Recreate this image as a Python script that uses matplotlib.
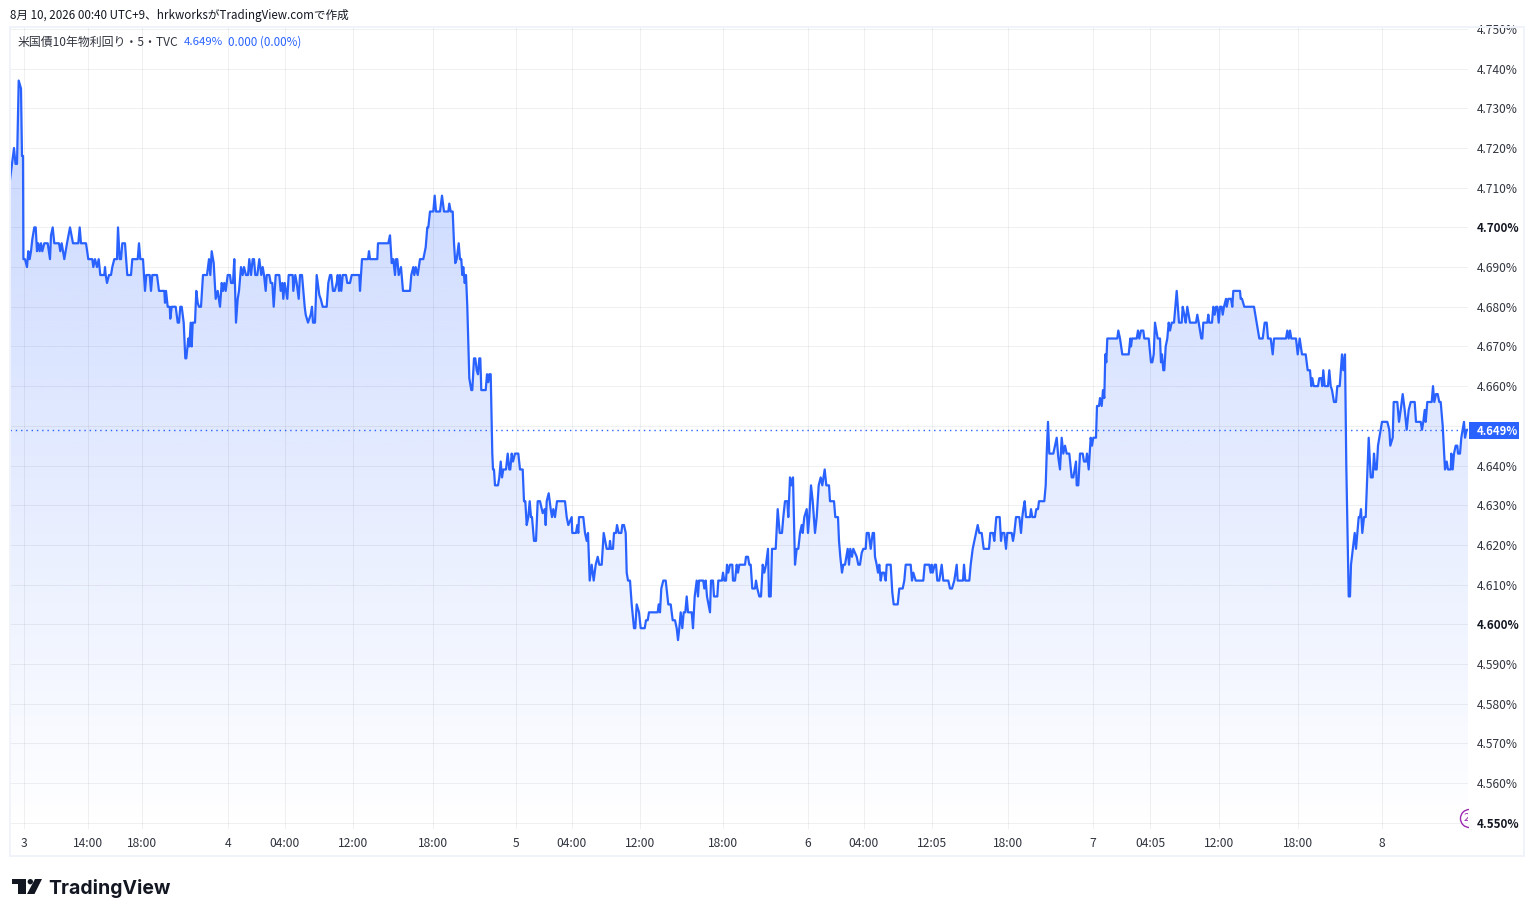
import numpy as np
import matplotlib
matplotlib.use('Agg')
import matplotlib.pyplot as plt
from matplotlib.patches import Rectangle, Polygon, Ellipse
from matplotlib.transforms import Bbox

plt.rcParams['font.family'] = ['Noto Sans CJK JP', 'DejaVu Sans']

W, H = 1534, 917

# (position on the time axis, yield in 1/1000 of a percent above 4%)
aug3_a = [(0,712),(2,716),(4,720),(5.5,716),(7,716),(8.7,737),(11,735),(12,718),(13,718),(13.4,692),
    (15,692),(17,690),(18.3,694),(19.7,692),(21,694),(22.3,697),(24.3,700),(25.7,700),(27,694),(28.3,696),
    (29.7,694),(31,696),(32.3,694),(34.3,696),(37.7,696),(40,692),(41,698),(42.7,700),(44.3,696),(49,696),
    (50.3,694),(51.7,696),(54.3,692),(57,696),(60,700),(63,696),(68.3,696),(69.7,700),(71,696),(76,696),
    (78.3,692),(82.3,692),(83.3,690),(85,692),(87,690),(88.7,692),(90.3,688),(94.3,688),(95,690),(95.7,688),
    (97,686),(99,688),(101,688),(102.3,690),(104.3,692),(107,692),(108,700),(109.7,692),(111,692),(112.3,696),
    (115,696),(117.3,688),(121,688),(122.3,692),(127.7,692),(129,696),(130.3,692),(133,692),(135,684),(136.3,688),
    (139.7,688),(141,684),(142.3,688),(147,688),(149,684),(154.3,684),(155,681),(156,684),(157.7,680),(159.7,680),
    (160.3,677),(161.7,680),(165.7,680),(167.7,676),(169,676),(170.3,680),(171.7,680),(173.7,676),(175.3,667),(176.3,667),
    (178.3,672),(179.3,670),(180.7,676),(181.7,670),(182.7,676),(185,676),(186.3,684),(187.7,681),(189,680),(191,680),
    (193,688),(197,688),(199,692),(200.3,688),(201.7,694),(203.7,691),(205.7,682),(207.7,684),(210,680),(211.7,686),
    (213,684),(214.3,686),(215.7,684),(217.7,688),(220,688),(221,686),(223,686),(224.3,692),(226,676),(227.7,682),
    (229,684),(231,690)]
aug3_b = [(232.7,688),(234,690),(236,688),(238,688),(239.3,692),(241,688),(242.7,692),(244,692),(245.3,688),(247.3,688),
    (249.3,692),(251.3,688),(252.7,690),(254,688),(255.7,684),(256.7,688),(259.3,688),(260.7,686),(262.3,686),(263.7,680),
    (265.7,688),(269.3,688),(270.7,684),(272.3,686),(273.3,682),(274.7,686),(276,684),(277.3,682),(278.7,688),(282.7,688),
    (283.3,684),(285.3,688),(286.7,686),(288.7,682),(290,688),(292,688),(294.7,680),(295.7,678),(298,676),(299.3,677),
    (300.7,678),(302,680),(303,676),(305,676),(306.7,688),(309.3,683),(310.7,682),(312.7,680),(316.7,680),(318.3,686),
    (320,688),(321.3,688),(323,684),(324.7,684),(326.7,686),(327.7,688),(329,684),(330,688),(331.3,684),(332.7,688),
    (336,688),(337.3,686),(340,686),(341.7,688),(349.3,688),(350,684),(352,692),(358,692),(359,694),(360,692),
    (367.3,692),(368,696),(378.3,696),(380,698),(381.7,691),(383.3,692),(385,688),(386,692),(387.3,692),(388.7,688),
    (391,690),(393,684),(400,684),(401.3,688),(403.3,690),(404.3,688),(405.7,690),(407.7,688),(410,692),(413.3,692),
    (415.7,695),(417.3,700),(418.3,700),(420,704),(423.3,704),(424.7,708),(426,704),(430,704),(432,708),(434,704),
    (438.3,704),(439.3,706),(440.7,704),(442.7,704),(444,696),(445.3,691),(446.7,692),(448.7,696),(450,692),(451.3,692),
    (452.3,688),(453.3,690),(454.7,686),(456,688),(457.3,680)]
aug4_5 = [(458.3,671),(459.3,662),(461.3,659),(462.3,659),(464,667),(465.3,667),(466.7,664),(468,663),(469.3,667),(470.3,667),
    (471.3,659),(475.7,659),(477,663),(478.3,661),(479.3,663),(480.7,663),(481.3,655),(482.3,643),(483,639),(484,639),
    (485,635),(488,635),(489.3,637),(490.7,641),(492,637),(493.3,639),(496,639),(497.7,643),(499.3,639),(500.3,639),
    (501.7,643),(503,641),(505,643),(508.3,643),(510,639),(512.7,639),(514,631),(515.3,631),(516.7,625),(518.3,627),
    (519.7,631),(521,627),(522,627),(524,621),(526,621),(527.7,631),(530,631),(532.7,628),(534.7,629),(535.7,625),
    (536.7,631),(538.7,633),(540.7,629),(542,627),(543.3,629),(545,627),(547,631),(555,631),(556.7,627),(558.3,625),
    (561.7,627),(562.3,623),(566,623),(567.3,625),(568.3,623),(569,627),(573.3,627),(575,623),(576.7,621),(578,623),
    (579.7,611),(581.7,615),(583.7,611),(585.7,615),(587.7,617),(589.3,615),(591.7,615),(593.7,623),(596.7,619),(599.3,619),
    (600,621),(601,619),(603,619),(604,623),(606,623),(607,625),(608.7,623),(611.3,623),(612.3,625),(614,625),
    (615.7,623),(616.7,613),(618,611),(620,611),(621.7,605),(624,599),(625.3,599),(626.7,605),(629,603),(630.7,599),
    (634.7,599),(636,601),(637.7,601),(639,603),(647.7,603),(648.7,605),(650,603),(651.3,609),(653.3,611),(655.7,611),
    (658.3,605),(660.7,605),(662.7,601),(665,601),(666.7,599),(668,596),(669.3,599),(670.7,603),(672.3,599),(673.7,603),
    (675.3,603),(676.7,607),(678,603),(681.7,603),(683,599),(684.7,607),(686.7,611),(688,607),(689,611),(693.3,611),
    (694.3,609),(695.7,611),(697,607),(700,603),(701,611),(703,611),(704,607),(707.3,607),(708.3,611),(712,611)]
aug5_6 = [(713,613),(714.3,611),(716,611),(717,615),(718.3,613),(720,615),(722.3,615),(723,611),(725,611),(726.7,615),
    (728,613),(729.3,615),(735,615),(736,617),(738,617),(739.3,615),(740.7,615),(742.3,609),(745,609),(746,611),
    (747.3,609),(749.3,607),(751,607),(752.7,615),(754.3,613),(756,615),(758,619),(759,607),(760.7,607),(762,619),
    (765.7,619),(767.7,629),(769.7,623),(772,623),(773.3,627),(775,631),(777.3,631),(778.3,627),(780,637),(781.3,635),
    (783,637),(785,615),(786.7,619),(788.3,619),(790,623),(791.7,625),(792.7,623),(794.3,627),(796.7,629),(798,623),
    (799.3,627),(801,635),(802.7,631),(805,623),(806.7,627),(808.7,635),(810.7,637),(812.3,635),(814.7,639),(816.3,635),
    (819,635),(820,631),(824,631),(825.3,627),(828,627),(829,621),(830.3,617),(832,613),(833.3,615),(835,615),
    (836.3,617),(837.7,619),(839,615),(840.3,619),(842,617),(843.3,619),(846.7,617),(848.3,615)]
aug6 = [(850,615),(851.7,618),(853.3,619),(855.7,619),(856.7,623),(858.7,623),(860.7,619),(862.7,623),(864,623),(865,617),
    (866.7,615),(868,613),(869.3,615),(870.7,611),(872,613),(874,613),(875.7,611),(876.7,615),(880.7,615),(882.3,608),
    (883.7,605),(887.7,605),(889.3,609),(892.7,609),(894.3,611),(895.7,615),(900.7,615),(902,611),(903.3,613),(905.7,611),
    (913.3,611),(914.7,615),(919.3,615),(920.7,613),(921.7,615),(922.7,613),(924.7,615),(926,615),(927.3,611),(929.3,611),
    (931.7,615),(933.3,611),(938.3,611),(940,609),(942,609),(944.3,611),(946.7,615),(947.7,611),(953,611),(954,615),
    (955.3,611),(959.3,611),(960.7,615),(962.7,619),(966,623),(967.7,625),(969.3,623),(971.7,623),(973.7,619),(979,619),
    (980.3,623),(983,623),(984.3,621),(986.3,627),(989.7,627),(991,621),(992,623),(994.3,623),(996,619),(997.3,623),
    (1001.7,623),(1003,621),(1004.3,623),(1006,627),(1009.3,627),(1011,623),(1012.3,627),(1013.3,629),(1014.7,631),(1016,627),
    (1020,627),(1021,629),(1022.3,627),(1025,627),(1026.3,629),(1028,629),(1029,631),(1034.3,631),(1035.7,635),(1036.7,643),
    (1038,651),(1039.3,643),(1043.3,643),(1045,645),(1046.7,647),(1048.3,642),(1050,639),(1051.7,647),(1053.3,643),(1055,645),
    (1056.7,643),(1059.3,643),(1061.7,637),(1063.3,637),(1064.7,639),(1066,641),(1066.7,635),(1068.3,635),(1070,643),(1072.7,643),
    (1074,641),(1076,641),(1077,643),(1078.7,639),(1080.7,647),(1082,645),(1083.3,647),(1086,647),(1087,655),(1089,655),
    (1090,657),(1091.7,655),(1093,659),(1094.3,657),(1095.3,668),(1096.3,666),(1097.3,672),(1107.3,672),(1108.3,674),(1110,672),
    (1112.3,668),(1118.7,668),(1120.3,672),(1121,670),(1122,672),(1126.7,672),(1128,674),(1129.3,672),(1131,674),(1133.3,674),
    (1134.3,672),(1138.7,672),(1141,666),(1142.3,666),(1143.7,668),(1145,676),(1147.7,672),(1150,672),(1151,666),(1152,668),
    (1153.3,664),(1154.3,664),(1155.7,670),(1157.3,672),(1158.7,676),(1160,674),(1161.7,676),(1164,676),(1166.7,684),(1169,676),
    (1171.7,676),(1172.7,680),(1174.3,678),(1175.7,676),(1177.3,680),(1180,676),(1186,676),(1187.3,678),(1188.7,676),(1191.3,672),
    (1192.3,672),(1193.3,676),(1197.3,676),(1198.3,678),(1199.3,676),(1202,676),(1203.3,680),(1204.7,678),(1206,680),(1207.3,680),
    (1208.7,676),(1210,680),(1211.7,680),(1212.7,678),(1214,680),(1216,682),(1216.7,680),(1218.3,682),(1221,682),(1222.3,680),
    (1223.3,684),(1230,684),(1230.7,682),(1232,682),(1234.3,680)]
aug7_8 = [(1244,680),(1246.7,676),(1248,674),(1249.3,672),(1252.7,672),(1254.7,676),(1256.7,676),(1258,672),(1260.7,672),(1262.7,668),
    (1264,672),(1276,672),(1277.3,674),(1278.7,672),(1280,674),(1281.3,672),(1286,672),(1287.7,668),(1289.7,672),(1292,668),
    (1295.7,668),(1297.7,664),(1300,664),(1301.3,660),(1302.3,662),(1303.7,660),(1308,660),(1309.3,662),(1311.3,662),(1312.3,660),
    (1313.3,664),(1314.7,660),(1318,660),(1319.3,664),(1320.7,660),(1322,659),(1324,656),(1326,656),(1327.3,660),(1329.7,660),
    (1332,668),(1333.3,664),(1335,668),(1336.3,640),(1338.7,607),(1340,607),(1341,615),(1343.3,620),(1344.7,623),(1346,619),
    (1347.3,623),(1348.7,627),(1350,627),(1351,629),(1352.3,623),(1354,627),(1355.7,627),(1357.3,638),(1358.7,647),(1360.7,637),
    (1362.7,637),(1364,643),(1365.3,639),(1366.7,639),(1368,645),(1369.3,647),(1370.7,649),(1372,651),(1377.3,651),(1379.3,649),
    (1380.3,645),(1382.7,647),(1383.7,656),(1387.3,656),(1389,651),(1390.7,654),(1392.7,658),(1394.7,654),(1396.7,649),(1398.7,654),
    (1400.7,656),(1404.7,656),(1406,651),(1410.7,651),(1412,649),(1413.3,651),(1414.7,654),(1415.7,651),(1417.3,656),(1421.7,656),
    (1423,660),(1424.3,656),(1426,658),(1427.7,658),(1429.3,656),(1430.7,656),(1432.7,650),(1435,639),(1436.7,641),(1438,639),
    (1440.7,639),(1441.3,643),(1442.7,639),(1444,643),(1445.7,645),(1447.3,645),(1448,643),(1450,643),(1451.3,647),(1452.7,649),
    (1454,651),(1455,647),(1456.7,649),(1458,649)]

last_value = 4.649
price_ticks = [4.55, 4.56, 4.57, 4.58, 4.59, 4.60, 4.61, 4.62, 4.63, 4.64, 4.65,
               4.66, 4.67, 4.68, 4.69, 4.70, 4.71, 4.72, 4.73, 4.74, 4.75]
strong_ticks = [4.55, 4.60, 4.70]
time_pos = [14, 78, 132.5, 218, 275, 343, 423, 506, 562, 630, 713, 798, 854, 922, 998, 1083, 1140, 1209, 1288, 1372]
time_labels = ['3', '14:00', '18:00', '4', '04:00', '12:00', '18:00', '5', '04:00', '12:00', '18:00',
               '6', '04:00', '12:05', '18:00', '7', '04:05', '12:00', '18:00', '8']

pts = np.array(aug3_a + aug3_b + aug4_5 + aug5_6 + aug6 + aug7_8)
t = pts[:, 0]
y = 4 + pts[:, 1] / 1000

BLUE = '#2962FF'
FRAME = '#F0F3FA'
TXT = '#131722'
TXT2 = '#30343e'
y_lo, y_hi = 4.5484, 4.7505

fig = plt.figure(figsize=(W / 100, H / 100), dpi=100)
ax = fig.add_axes([10 / W, 1 - 829 / H, 1458 / W, 802 / H])
for s in ax.spines.values():
    s.set_visible(False)

ax.yaxis.tick_right()
ax.set_yticks(price_ticks)
ax.set_yticklabels(['%.3f%%' % v for v in price_ticks], va='center_baseline')
ax.set_xticks(time_pos)
ax.set_xticklabels(time_labels, color=TXT2)
ax.tick_params(axis='both', length=0, labelsize=8.7)
ax.tick_params(axis='y', pad=6.3)
ax.tick_params(axis='x', pad=5.6)
ax.grid(True, color='#2A2E39', alpha=0.07, lw=0.72, zorder=2)
ax.set_axisbelow(False)

for v, lab in zip(price_ticks, ax.get_yticklabels()):
    lab.set_fontweight('bold' if v in strong_ticks else 'normal')
    lab.set_fontsize(8.4 if v in strong_ticks else 8.6)
    lab.set_color(TXT if v in strong_ticks else TXT2)

# top tick label is cut by the pane edge
top_lab = ax.get_yticklabels()[-1]
top_lab.set_clip_box(Bbox([[1460, H - 827], [1530, H - 20]]))
top_lab.set_clip_on(True)

# gradient fill under the line
grad = np.zeros((256, 1, 4))
grad[..., :3] = matplotlib.colors.to_rgb(BLUE)
grad[..., 3] = np.linspace(0.0, 0.26, 256)[:, None]
im = ax.imshow(grad, origin='lower', extent=(0, 1458, y_lo, y.max()), aspect='auto', zorder=1.5)
clip = Polygon(np.column_stack([np.r_[t[0], t, t[-1]], np.r_[y_lo, y, y_lo]]),
               closed=True, transform=ax.transData, fc='none', ec='none')
ax.add_patch(clip)
im.set_clip_path(clip)
ax.set_xlim(0, 1458)
ax.set_ylim(y_lo, y_hi)

ax.plot(t, y, color=BLUE, lw=1.6, solid_joinstyle='round', zorder=3)
ax.axhline(last_value, color=BLUE, lw=1.0, ls=(0, (1, 2.8)), zorder=2.5)

# purple marker cut by the price scale
ax.plot([1459], [4.5512], marker='o', ms=13, mfc='none', mec='#9C27B0', mew=1.0, zorder=4, clip_on=True)
ax.text(1457, 4.5512, '2', color='#9C27B0', fontsize=8, ha='center', va='center', clip_on=True, zorder=4)

# last price tag
tag_y = 1 - 430.5 / H
fig.add_artist(Rectangle((1469 / W, tag_y - 8.5 / H), 50 / W, 17 / H, transform=fig.transFigure,
                         fc=BLUE, ec='none'))
fig.text(1477 / W, tag_y, '%.3f%%' % last_value, color='white', fontsize=8.1, fontweight='bold',
         ha='left', va='center_baseline')

# frame round the chart
fig.add_artist(Rectangle((10 / W, 1 - 856 / H), 1514 / W, 829 / H, transform=fig.transFigure,
                         fc='none', ec=FRAME, lw=1.4))

# header texts
fig.text(10 / W, 1 - 15 / H, '8月 10, 2026 00:40 UTC+9、hrkworksがTradingView.comで作成',
         fontsize=8.35, color=TXT, va='center', ha='left')
leg_y = 1 - 42 / H
fig.text(18 / W, leg_y, '米国債10年物利回り・5・TVC', fontsize=8.6, color=TXT2, va='center', ha='left')
fig.text(184 / W, leg_y, '4.649%', fontsize=8.2, color=BLUE, va='center', ha='left')
fig.text(228 / W, leg_y, '0.000 (0.00%)', fontsize=8.4, color=BLUE, va='center', ha='left')

# TradingView logo
def logo_pts(coords):
    return [(px / W, 1 - py / H) for px, py in coords]

LOGO = '#131722'
fig.add_artist(Polygon(logo_pts([(12, 879), (26, 879), (26, 894), (18, 894), (18, 884), (12, 884)]),
                       closed=True, transform=fig.transFigure, fc=LOGO, ec='none'))
fig.add_artist(Ellipse((30.3 / W, 1 - 881.7 / H), 5.4 / W, 5.4 / H, transform=fig.transFigure, fc=LOGO, ec='none'))
fig.add_artist(Polygon(logo_pts([(35, 879), (42, 879), (34.5, 894), (27, 894)]),
                       closed=True, transform=fig.transFigure, fc=LOGO, ec='none'))
fig.text(48.5 / W, 1 - 888 / H, 'TradingView', family='Inter', fontsize=14.0, fontweight='bold',
         color=LOGO, va='center', ha='left')

fig.savefig('out.png', dpi=100, facecolor='white')
